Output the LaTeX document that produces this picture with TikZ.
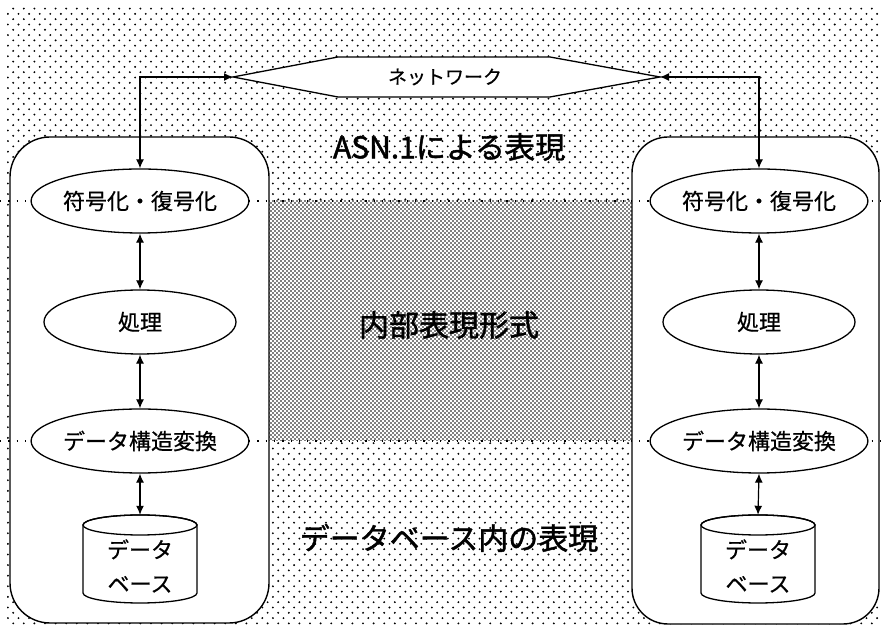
\documentclass[tikz,border=0pt]{standalone}
\usepackage{fontspec}
\setmainfont{Noto Sans CJK JP}
\newfontfamily\labelfont{Noto Sans CJK JP}[FakeBold=0.6]
\newfontfamily\titlefont{Noto Sans CJK JP}[FakeBold=1.4]
\usetikzlibrary{shapes.geometric,arrows.meta,patterns}

% screen-tone fills: a sparse staggered dot grid and a dense one
\pgfdeclarepatternformonly{sparsedots}{\pgfpoint{-1pt}{-1pt}}{\pgfpoint{11.6pt}{11.6pt}}{\pgfpoint{10.6pt}{10.6pt}}{%
  \pgfpathcircle{\pgfpoint{2.6pt}{2.6pt}}{1.05pt}%
  \pgfpathcircle{\pgfpoint{7.9pt}{7.9pt}}{1.05pt}%
  \pgfusepath{fill}}
\pgfdeclarepatternformonly{densedots}{\pgfpoint{-1pt}{-1pt}}{\pgfpoint{5pt}{5pt}}{\pgfpoint{4pt}{4pt}}{%
  \pgfpathcircle{\pgfpoint{1pt}{1pt}}{0.85pt}%
  \pgfpathcircle{\pgfpoint{3pt}{3pt}}{0.85pt}%
  \pgfusepath{fill}}

\tikzset{
  frame/.style={draw, line width=1.4pt, fill=white},
  proc/.style={ellipse, draw, line width=1.3pt, fill=white, minimum width=192pt,
    minimum height=64pt, inner sep=0pt, font=\labelfont\fontsize{22}{26}\selectfont},
  bigtext/.style={inner sep=0pt, font=\titlefont\fontsize{30}{36}\selectfont},
  dbtext/.style={inner sep=0pt, align=center, font=\labelfont\fontsize{22}{34}\selectfont},
  dbshape/.style={rectangle, minimum width=114pt, minimum height=88pt, inner sep=0pt},
  link/.style={{Latex[length=9pt,width=8pt]}-{Latex[length=9pt,width=8pt]}, line width=1.2pt},
  guide/.style={line width=1.4pt, dash pattern=on 1.3pt off 7pt},
}

\begin{document}
\begin{tikzpicture}[x=1pt,y=1pt]
\useasboundingbox (0,0) rectangle (881,626);

% tones
\fill[pattern=sparsedots] (7,0) rectangle (881,619);
\fill[white] (269,185) rectangle (632,425);
\fill[pattern=densedots] (269,185) rectangle (632,425);

% the two systems
\draw[frame, rounded corners=40pt] (10,3) rectangle (269,489);
\draw[frame, rounded corners=36pt] (632,2) rectangle (879,489);

% layer boundaries
\draw[guide] (0,425) -- (881,425);
\draw[guide] (0,185) -- (881,185);

% layer names
\node[bigtext] (lasn) at (449,479) {ASN.1による表現};
\node[bigtext] (lint) at (449,301) {内部表現形式};
\node[bigtext] (ldb) at (449,88) {データベース内の表現};

% network
\coordinate (netL) at (233,549);
\coordinate (netR) at (660,549);
\draw[frame, line width=1.3pt] (netL) -- (338,569) -- (550,569) -- (netR) -- (550,529) -- (338,529) -- cycle;
\node[inner sep=0pt, font=\labelfont\fontsize{19}{23}\selectfont] (net) at (445,549) {ネットワーク};

% left system
\node[proc] (encA) at (140,425) {符号化・復号化};
\node[proc] (prcA) at (140,304) {処理};
\node[proc] (cnvA) at (140,185) {データ構造変換};
\draw[frame, line width=1.3pt] (83,101) -- (83,33) arc[start angle=180,end angle=360,x radius=57,y radius=10]
  -- (197,101) arc[start angle=0,end angle=180,x radius=57,y radius=10] -- cycle;
\draw[line width=1.3pt] (140,101) ellipse[x radius=57,y radius=10];
\node[dbshape] (dbA) at (140,67) {};
\node[dbtext] (dbAtext) at (140,60) {データ\\ベース};

% right system
\node[proc] (encB) at (759,425) {符号化・復号化};
\node[proc] (prcB) at (759,304) {処理};
\node[proc] (cnvB) at (759,185) {データ構造変換};
\draw[frame, line width=1.3pt] (701,101) -- (701,33) arc[start angle=180,end angle=360,x radius=57,y radius=10]
  -- (815,101) arc[start angle=0,end angle=180,x radius=57,y radius=10] -- cycle;
\draw[line width=1.3pt] (758,101) ellipse[x radius=57,y radius=10];
\node[dbshape] (dbB) at (758,67) {};
\node[dbtext] (dbBtext) at (758,60) {データ\\ベース};

% connectors
\draw[link] (encA.south) -- (prcA.north);
\draw[link] (prcA.south) -- (cnvA.north);
\draw[link] (cnvA.south) -- (dbA.north);
\draw[link] (encB.south) -- (prcB.north);
\draw[link] (prcB.south) -- (cnvB.north);
\draw[link] (cnvB.south) -- (dbB.north);
\draw[link] (encA.north) |- (netL);
\draw[link] (encB.north) |- (netR);
\end{tikzpicture}
\end{document}
